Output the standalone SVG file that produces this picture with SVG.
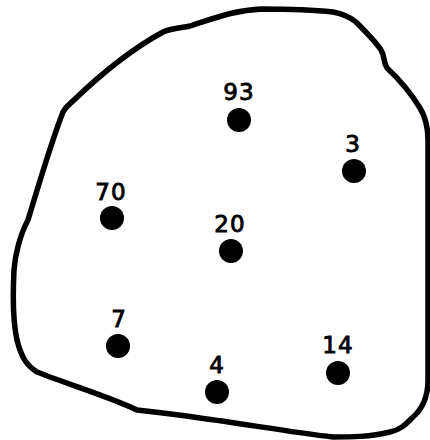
<svg xmlns="http://www.w3.org/2000/svg" width="430" height="440" viewBox="0 0 430 440">
<style>
.outline{fill:none;stroke:#000;stroke-width:5.5;stroke-linejoin:round}
.dot{fill:#000}
.lbl{font-family:"DejaVu Sans","Liberation Sans",sans-serif;font-size:23px;fill:#000;stroke:#000;stroke-width:0.9;text-anchor:middle;letter-spacing:1px}
</style>
<rect width="430" height="440" fill="#fff"/>
<g id="region">
<path class="outline" d="M28,220 C40,180 52,140 63,112 C66,106 70,104 74,100 C100,75 130,50 163,32 C172,28 180,28 190,26 C215,18 235,10 262,9 C290,9 315,10 333,12 C343,14 350,17 356,22 C366,32 376,42 381,50 C385,56 383,62 387,68 C400,80 412,95 420,108 C426,118 428,128 428,140 C428,200 428,300 428,380 C428,395 424,408 412,418 C405,425 400,430 390,432 C370,437 350,437 333,437 C290,432 245,424 200,418 C180,415 155,412 137,410 C110,397 70,385 37,372 C28,366 22,360 17,340 C12,318 13,290 14,270 C15,255 20,235 28,220 Z"/>
</g>
<g id="n93"><circle class="dot" cx="239" cy="120" r="12"/><text class="lbl" x="239" y="100">93</text></g>
<g id="n3"><circle class="dot" cx="354" cy="171" r="12"/><text class="lbl" x="353" y="152">3</text></g>
<g id="n70"><circle class="dot" cx="112" cy="218" r="12"/><text class="lbl" x="111" y="200">70</text></g>
<g id="n20"><circle class="dot" cx="231" cy="251" r="12"/><text class="lbl" x="230" y="232">20</text></g>
<g id="n7"><circle class="dot" cx="118" cy="346" r="12"/><text class="lbl" x="119" y="327">7</text></g>
<g id="n4"><circle class="dot" cx="217" cy="392" r="12"/><text class="lbl" x="217" y="373">4</text></g>
<g id="n14"><circle class="dot" cx="338" cy="373" r="12"/><text class="lbl" x="338" y="353">14</text></g>
<g id="connectors"></g>
</svg>
